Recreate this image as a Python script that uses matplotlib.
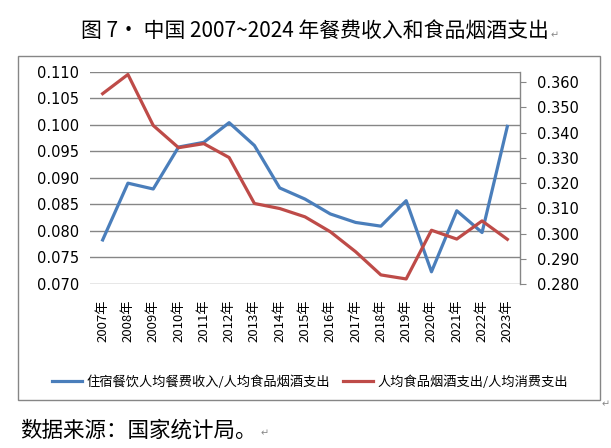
import matplotlib
matplotlib.use("Agg")
import matplotlib.pyplot as plt
from matplotlib.patches import Rectangle

plt.rcParams['font.family'] = ['Noto Sans CJK SC', 'DejaVu Sans']

years = [f"{y}年" for y in range(2007, 2024)]
catering_ratio = [0.0783, 0.0890, 0.0879, 0.0958, 0.0967, 0.1004, 0.0961, 0.0881,
                  0.0860, 0.0832, 0.0816, 0.0809, 0.0857, 0.0723, 0.0838, 0.0797, 0.0997]
food_ratio = [0.3554, 0.3630, 0.3428, 0.3340, 0.3356, 0.3301, 0.3119, 0.3099,
              0.3066, 0.3007, 0.2928, 0.2836, 0.2820, 0.3013, 0.2978, 0.3050, 0.2977]
left_ticks = [0.070, 0.075, 0.080, 0.085, 0.090, 0.095, 0.100, 0.105, 0.110]
right_ticks = [0.280, 0.290, 0.300, 0.310, 0.320, 0.330, 0.340, 0.350, 0.360]

title = "图 7· 中国 2007~2024 年餐费收入和食品烟酒支出"
source = "数据来源：国家统计局。"
label_blue = "住宿餐饮人均餐费收入/人均食品烟酒支出"
label_red = "人均食品烟酒支出/人均消费支出"

BLUE = "#4A7EBB"
RED = "#BE4B48"
GRID = "#868686"

fig = plt.figure(figsize=(6.11, 4.48), dpi=100)
W, H = 611, 448

# outer chart box
fig.patches.append(Rectangle((18 / W, 1 - 400 / H), (600 - 18) / W, (400 - 56) / H,
                             transform=fig.transFigure, fill=False, edgecolor=GRID,
                             linewidth=1.0))

ax = fig.add_axes([90 / W, 1 - 284 / H, (520 - 90) / W, (284 - 71.7) / H])
ax2 = ax.twinx()

x = list(range(len(years)))
l1, = ax.plot(x, catering_ratio, color=BLUE, linewidth=2.3, solid_joinstyle='round')
l2, = ax2.plot(x, food_ratio, color=RED, linewidth=2.3, solid_joinstyle='round')

ax.set_xlim(-0.5, len(years) - 0.5)
ax.set_ylim(0.070, 0.110)
ax.set_yticks(left_ticks)
ax.set_yticklabels([f"{v:.3f}" for v in left_ticks], family='DejaVu Sans', fontsize=10.5)
ax.yaxis.grid(True, color=GRID, linewidth=1.0)
ax.set_axisbelow(True)
ax.tick_params(axis='y', length=0, pad=8)
ax.set_xticks(x)
ax.set_xticklabels(years, rotation=90, fontsize=9.5)
ax.tick_params(axis='x', length=0, pad=11)

ax2.set_ylim(0.280, 0.3641)
ax2.set_yticks(right_ticks)
ax2.set_yticklabels([f"{v:.3f}" for v in right_ticks], family='DejaVu Sans', fontsize=10.5)
ax2.tick_params(axis='y', length=4, color=GRID, pad=8)

for a in (ax, ax2):
    a.spines['top'].set_visible(False)
    a.spines['left'].set_visible(False)
    a.spines['bottom'].set_visible(False)
    a.spines['right'].set_visible(False)
ax2.spines['right'].set_visible(True)
ax2.spines['right'].set_color(GRID)
ax2.spines['right'].set_linewidth(1.0)

fig.legend([l1, l2], [label_blue, label_red], loc='center', ncol=2,
           bbox_to_anchor=(310 / W, 1 - 382 / H), frameon=False, fontsize=9.5,
           handlelength=2.3, handletextpad=0.3, columnspacing=1.0)

fig.text(315 / W, 1 - 31 / H, title, ha='center', va='center', fontsize=15)
fig.text(551 / W, 1 - 35 / H, "↵", ha='left', va='center', fontsize=7, color='#888888',
         family='DejaVu Sans')
fig.text(20 / W, 1 - 431 / H, source, ha='left', va='center', fontsize=15.5)
fig.text(261 / W, 1 - 433 / H, "↵", ha='left', va='center', fontsize=7, color='#888888',
         family='DejaVu Sans')
fig.text(602 / W, 1 - 404 / H, "↵", ha='left', va='center', fontsize=7, color='#888888',
         family='DejaVu Sans')

fig.savefig("out.png", dpi=100, facecolor='white')
